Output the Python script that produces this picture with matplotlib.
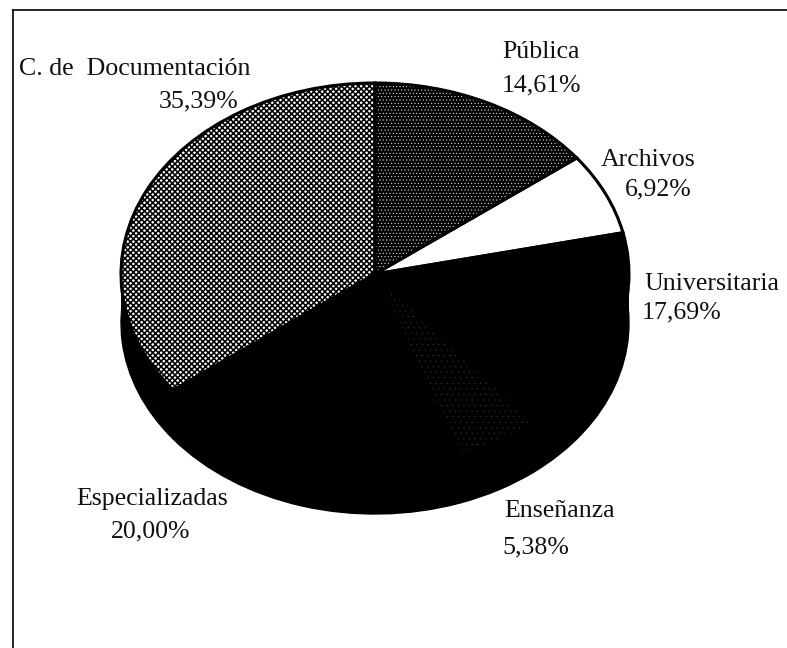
import matplotlib
matplotlib.use('Agg')
import matplotlib.pyplot as plt
from matplotlib.lines import Line2D
from matplotlib.patches import Rectangle

W, H = 787, 648

categorias = ['Pública', 'Archivos', 'Universitaria', 'Enseñanza', 'Especializadas', 'C. de  Documentación']
valores = [14.61, 6.92, 17.69, 5.38, 20.00, 35.39]

# facecolor, hatch colour, hatch, hatch width
estilos = [('black', '#f0f0f0', '.....', 0.35),
           ('white', 'white', None, 0.5),
           ('black', 'black', None, 0.5),
           ('black', '#4a4a4a', '...', 0.0),
           ('black', 'black', None, 0.5),
           ('white', 'black', 'xxxxxx', 1.15)]

# centre x and baseline y in pixels of the picture, name then value
pos_nombres = [(541, 58), (648, 166), (712, 290), (560, 517), (152, 505), (135, 75)]
pos_valores = [(541, 91), (658, 195), (682, 318), (536, 553), (151, 537), (199, 107)]

plt.rcParams['font.family'] = ['Liberation Serif', 'DejaVu Serif']

fig = plt.figure(figsize=(W / 100, H / 100), dpi=100)

# the axes box is the top face of the pie
cx, cy, a, b = 375, 274, 254, 191
ax = fig.add_axes([(cx - a) / W, (H - cy - b) / H, 2 * a / W, 2 * b / H])
prof = 49 / b

# side of the pie
ax.pie(valores, radius=1, center=(0, -prof), startangle=90, counterclock=False,
       colors=['black'] * len(valores),
       wedgeprops={'clip_on': False, 'linewidth': 1, 'edgecolor': 'black'})
ax.add_patch(Rectangle((-1, -prof), 2, prof, color='black', linewidth=0, clip_on=False))

# top face, one wedge style at a time
wedges, _ = ax.pie(valores, radius=1, startangle=90, counterclock=False,
                   wedgeprops={'clip_on': False, 'linewidth': 0})
for w, (fc, hc, hatch, lw) in zip(wedges, estilos):
    plt.rcParams['hatch.linewidth'] = lw
    w.set_visible(False)
    ax.add_patch(type(w)(w.center, w.r, w.theta1, w.theta2, facecolor=fc, edgecolor=hc,
                         hatch=hatch, linewidth=0, clip_on=False))

# black outlines
ax.pie(valores, radius=1, startangle=90, counterclock=False,
       wedgeprops={'clip_on': False, 'linewidth': 2.2, 'edgecolor': 'black', 'fill': False})

ax.set_aspect('auto')
ax.set_xlim(-1, 1)
ax.set_ylim(-1, 1)
ax.axis('off')

for nombre, v, pn, pv in zip(categorias, valores, pos_nombres, pos_valores):
    fig.text(pn[0] / W, 1 - pn[1] / H, nombre, ha='center', va='baseline',
             fontsize=18.6, color='#111111')
    fig.text(pv[0] / W, 1 - pv[1] / H, f'{v:.2f}'.replace('.', ',') + '%', ha='center',
             va='baseline', fontsize=18.6, color='#111111')

# scanned frame: left and top only
fig.add_artist(Line2D([13 / W, 13 / W], [0, 1 - 10 / H], color='black', lw=1.2))
fig.add_artist(Line2D([13 / W, 1], [1 - 10 / H, 1 - 10 / H], color='black', lw=1.2))

fig.savefig('out.png', dpi=100, facecolor='white')
